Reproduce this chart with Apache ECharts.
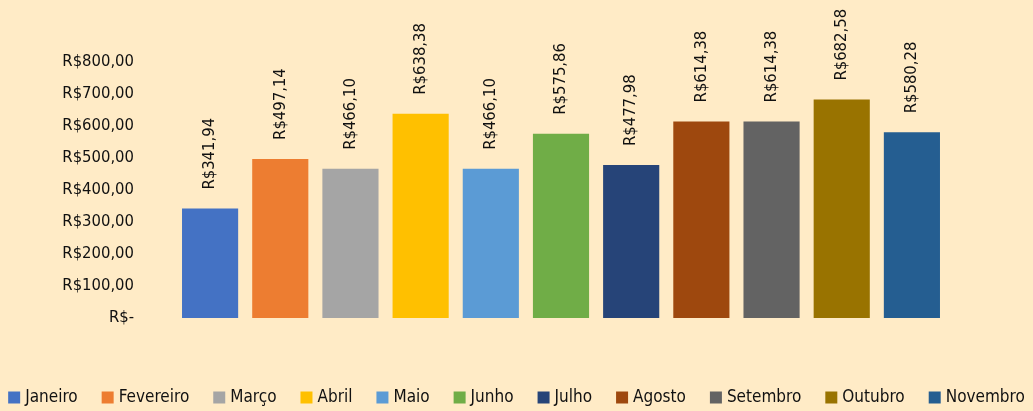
<!DOCTYPE html>
<html>
<head>
<meta charset="utf-8">
<script src="https://cdn.jsdelivr.net/npm/echarts@6/dist/echarts.min.js"></script>
<style>
  html, body { margin: 0; padding: 0; background: #FFEBC6; }
  #chart { width: 1033px; height: 411px; }
</style>
</head>
<body>
<div id="chart"></div>
<script>
// meses e valores (R$)
var meses = ["Janeiro", "Fevereiro", "Março", "Abril", "Maio", "Junho", "Julho", "Agosto", "Setembro", "Outubro", "Novembro"];
var valores = [341.94, 497.14, 466.10, 638.38, 466.10, 575.86, 477.98, 614.38, 614.38, 682.58, 580.28];
var cores = ["#4472C4", "#ED7D31", "#A5A5A5", "#FFC000", "#5B9BD5", "#70AD47", "#264478", "#9E480E", "#636363", "#997300", "#255E91"];
var eixoY = { min: 0, max: 800, interval: 100 };

var FONT = "'DejaVu Sans Condensed', 'Liberation Sans Narrow', sans-serif";

function brl(v) {
  if (!v) return "R$-";
  return "R$" + v.toFixed(2).replace(".", ",");
}

var chart = echarts.init(document.getElementById("chart"), null, { renderer: "canvas" });

// uma série por mês (como no Excel), empilhadas para ocupar a mesma coluna
var series = meses.map(function (m, i) {
  var data = meses.map(function (_, j) { return j === i ? valores[i] : null; });
  return {
    name: m, type: "bar", stack: "total", data: data, barWidth: "80%",
    itemStyle: { color: cores[i] },
    label: {
      show: true, position: "top", rotate: 90, distance: 19,
      align: "left", verticalAlign: "middle",
      color: "#111", fontFamily: FONT, fontSize: 16.5,
      formatter: function (p) { return p.value == null ? "" : brl(p.value); }
    }
  };
});

chart.setOption({
  backgroundColor: "#FFEBC6",
  animation: false,
  grid: { left: 175, right: 86, top: 62, bottom: 93, containLabel: false },
  legend: {
    data: meses, top: 389, left: "center", padding: 0,
    icon: "rect", itemWidth: 12, itemHeight: 12, itemGap: 24,
    textStyle: { color: "#111", fontFamily: FONT, fontSize: 17 }
  },
  xAxis: {
    type: "category", data: meses,
    axisLine: { show: false }, axisTick: { show: false }, axisLabel: { show: false }
  },
  yAxis: {
    type: "value", min: eixoY.min, max: eixoY.max, interval: eixoY.interval,
    splitLine: { show: false }, axisLine: { show: false }, axisTick: { show: false },
    axisLabel: { color: "#111", fontFamily: FONT, fontSize: 16.5, margin: 41, formatter: brl }
  },
  series: series
});
</script>
</body>
</html>
